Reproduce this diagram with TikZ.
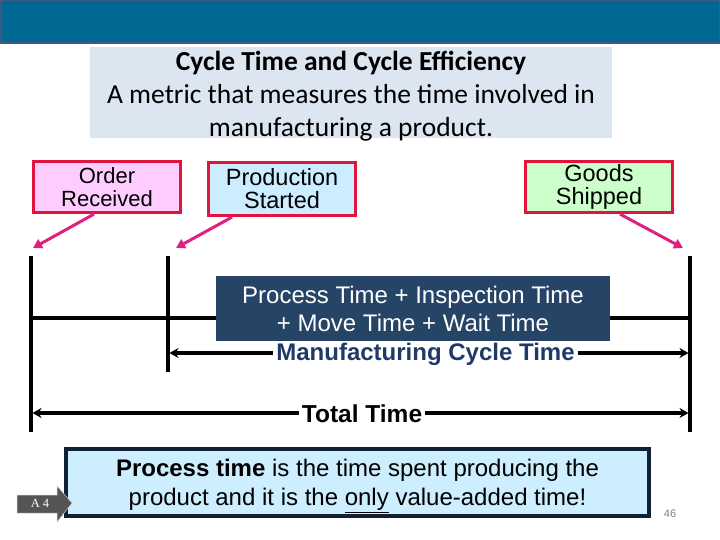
\documentclass[tikz,border=0pt]{standalone}
\usepackage{fontspec}
\setmainfont{Liberation Sans}
\newfontfamily\calfont{Carlito}
\newfontfamily\tabfont{Liberation Serif}
\usetikzlibrary{arrows.meta}
\definecolor{banner}{HTML}{006892}
\definecolor{bannerrim}{HTML}{3E5A82}
\definecolor{titlefill}{HTML}{DCE6F1}
\definecolor{boxrim}{HTML}{E0143C}
\definecolor{pinkfill}{HTML}{FFCCFF}
\definecolor{bluefill}{HTML}{CCECFF}
\definecolor{greenfill}{HTML}{CCFFCC}
\definecolor{pointer}{HTML}{E0207F}
\definecolor{darkbox}{HTML}{264466}
\definecolor{navytext}{HTML}{1F3A68}
\definecolor{lightblue}{HTML}{CCEEFF}
\definecolor{bottomrim}{HTML}{102035}
\definecolor{tabgray}{HTML}{555555}
\tikzset{
  eventbox/.style={draw=boxrim, line width=3.2pt, minimum width=147pt, minimum height=51pt,
    align=center, inner sep=0pt},
  pointarrow/.style={draw=pointer, line width=3pt, -{Triangle[length=9pt,width=10pt]}},
  timeline/.style={line width=3.1pt, black},
  spanarrow/.style={line width=3.1pt, {Stealth[length=9pt,width=10pt]}-{Stealth[length=9pt,width=10pt]}},
  spanlabel/.style={fill=white, inner xsep=3pt, inner ysep=0pt, font=\bfseries\fontsize{24.5}{26}\selectfont}
}
\begin{document}
\begin{tikzpicture}[x=1pt,y=-1pt]
\useasboundingbox (0,0) rectangle (720,540);
% banner
\fill[banner, draw=bannerrim, line width=1.5pt] (0.75,0.75) rectangle (719.25,43);
% title
\node[fill=titlefill, minimum width=522pt, minimum height=91pt, inner sep=0pt] (titlebox) at (351,92.5) {};
\node[align=center, inner sep=0pt, font=\calfont\fontsize{27.5}{33}\selectfont] (title) at (351,96)
  {\textbf{Cycle Time and Cycle Efficiency}\\A metric that measures the time involved in\\manufacturing a product.};
% event boxes
\node[eventbox, fill=pinkfill, font=\fontsize{22}{23}\selectfont] (order) at (107,187) {Order\\Received};
\node[eventbox, fill=bluefill, minimum height=53pt, font=\fontsize{23.5}{23}\selectfont] (prod) at (282,189) {Production\\Started};
\node[eventbox, fill=greenfill, font=\fontsize{23.5}{23}\selectfont] (goods) at (599,187) {Goods\\Shipped};
% timeline coordinates
\coordinate (lA) at (31,256);
\coordinate (lAb) at (31,432);
\coordinate (lB) at (168,256);
\coordinate (lBb) at (168,372);
\coordinate (lC) at (690,256);
\coordinate (lCb) at (690,432);
\coordinate (tipA) at (33,248);
\coordinate (tipB) at (176,248);
\coordinate (tipC) at (683,248);
% pointers
\draw[pointarrow] ([xshift=-13pt]order.south) -- (tipA);
\draw[pointarrow] ([xshift=-50pt]prod.south) -- (tipB);
\draw[pointarrow] ([xshift=21pt]goods.south) -- (tipC);
% vertical lines
\draw[timeline] (lA) -- (lAb);
\draw[timeline] (lB) -- (lBb);
\draw[timeline] (lC) -- (lCb);
% horizontal line behind dark box
\coordinate (hL) at (31,318);
\coordinate (hR) at (690,318);
\draw[timeline] (hL) -- (hR);
% dark box
\node[fill=darkbox, minimum width=394pt, minimum height=65pt, inner sep=0pt, align=center,
  text=white, font=\fontsize{24}{28}\selectfont] (formula) at (413,308.5)
  {Process Time + Inspection Time\\+ Move Time + Wait Time};
% manufacturing cycle time
\coordinate (mL) at (169.5,353);
\coordinate (mR) at (688.5,353);
\draw[spanarrow] (mL) -- (mR);
\node[spanlabel, text=navytext, font=\bfseries\fontsize{24}{26}\selectfont] (mct) at (425.5,354) {Manufacturing Cycle Time};
% total time
\coordinate (tL) at (32.5,413);
\coordinate (tR) at (688.5,413);
\draw[spanarrow] (tL) -- (tR);
\node[spanlabel] (tt) at (362,414) {Total Time};
% bottom box
\node[fill=lightblue, draw=bottomrim, line width=3.2pt, minimum width=583pt, minimum height=67pt,
  inner sep=0pt] (note) at (357.5,482.5) {};
\node[align=center, inner sep=0pt, font=\fontsize{24}{29}\selectfont] (notetext) at (357.5,486)
  {\textbf{Process time} is the time spent producing the\\product and it is the \underline{only} value-added time!};
% A4 tab
\fill[tabgray, draw=white!70!tabgray, line width=0.5pt] (17,495) -- (57,495) -- (57,486) -- (72,503) -- (57,522) -- (57,513) -- (17,513) -- cycle;
\node[text=white, font=\tabfont\fontsize{12.5}{14}\selectfont, inner sep=0pt] (a4) at (40,503.5) {A 4};
% page number
\node[text=gray, font=\fontsize{11}{12}\selectfont, inner sep=0pt] (pg) at (670,514) {46};
\end{tikzpicture}
\end{document}
